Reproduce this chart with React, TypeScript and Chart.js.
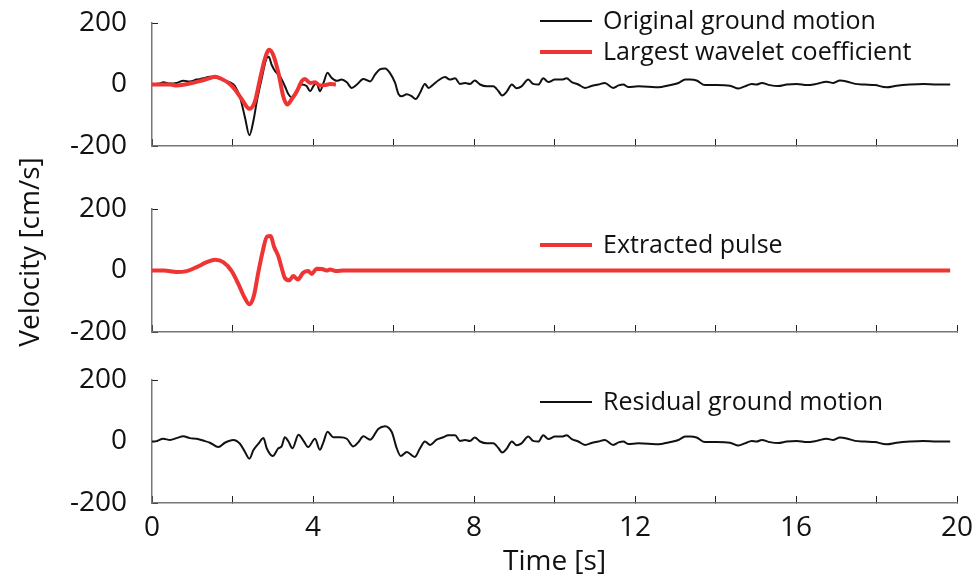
import React, { useEffect, useRef } from 'react';
import { Chart, registerables } from 'chart.js';

Chart.register(...registerables);

// ---------- data ----------
const originalT = [0, 0.1, 0.2, 0.28, 0.45, 0.61, 0.78, 0.94, 1.11, 1.27, 1.44, 1.61, 1.77, 1.94, 2.06, 2.19, 2.31, 2.42, 2.52, 2.6, 2.72, 2.85, 2.9, 2.97, 3.06, 3.18, 3.3, 3.39, 3.47, 3.6, 3.72, 3.84, 3.93, 4.01, 4.09, 4.17, 4.26, 4.36, 4.46, 4.59, 4.71, 4.84, 4.96, 5.09, 5.25, 5.42, 5.54, 5.66, 5.79, 5.91, 6.04, 6.12, 6.2, 6.33, 6.45, 6.55, 6.66, 6.78, 6.87, 6.99, 7.11, 7.28, 7.4, 7.53, 7.65, 7.78, 7.9, 8.02, 8.15, 8.32, 8.48, 8.61, 8.7, 8.81, 8.94, 9.06, 9.18, 9.35, 9.47, 9.6, 9.72, 9.85, 10.01, 10.18, 10.3, 10.43, 10.59, 10.76, 10.92, 11.09, 11.25, 11.46, 11.59, 11.71, 11.83, 12.08, 12.33, 12.58, 12.83, 13.08, 13.25, 13.37, 13.53, 13.74, 14.03, 14.36, 14.57, 14.73, 14.9, 15.02, 15.15, 15.35, 15.56, 15.77, 16.02, 16.27, 16.51, 16.76, 16.93, 17.09, 17.26, 17.47, 17.71, 17.96, 18.25, 18.5, 18.83, 19.16, 19.5, 19.83];
const originalV = [0, 2, 3, 7, 3, 5, 12, 10, 16, 20, 25, 22, 14, 7, -5, -43, -107, -165, -118, -58, 16, 86, 90, 65, 43, 27, -5, -32, -42, -22, 0, -5, -22, -5, 5, -22, 5, 38, 22, 12, 16, 7, -11, 0, 18, 10, 32, 49, 52, 38, 5, -30, -38, -32, -38, -47, -27, 2, -11, 0, 13, 24, 16, 20, 2, 5, 2, 13, 0, -6, -6, -22, -36, -24, 0, -12, -6, 16, 2, 0, 20, 8, 16, 16, 20, 8, 0, -11, -5, 0, 5, -11, -3, 0, -8, -6, -7, -9, -3, 5, 16, 16, 13, -2, -2, -4, -13, -6, 2, 0, 5, -2, -5, 0, 2, -2, 2, 9, 5, 13, 10, 2, 0, -2, -9, -4, 0, 2, 0, 0];

const waveletT = [0, 0.45, 0.61, 0.78, 0.94, 1.19, 1.4, 1.57, 1.73, 1.9, 2.06, 2.23, 2.42, 2.56, 2.68, 2.81, 2.91, 3.01, 3.14, 3.26, 3.36, 3.47, 3.6, 3.72, 3.8, 3.93, 4.05, 4.17, 4.3, 4.42, 4.57];
const waveletV = [0, 0, -3, -1, 3, 11, 19, 25, 18, 5, -16, -48, -79, -54, 16, 86, 113, 97, 38, -38, -65, -48, -22, 11, 18, 5, 7, -3, -2, 2, 0];

const pulseT = [0, 0.3, 0.61, 0.86, 1.11, 1.36, 1.57, 1.77, 1.98, 2.15, 2.3, 2.42, 2.53, 2.64, 2.75, 2.86, 2.95, 3.03, 3.14, 3.22, 3.3, 3.41, 3.51, 3.62, 3.76, 3.88, 3.97, 4.09, 4.22, 4.34, 4.42, 4.59, 4.75, 19.83];
const pulseV = [0, 0, -5, -2, 11, 27, 35, 27, -2, -45, -88, -110, -83, -7, 62, 111, 112, 78, 46, 9, -24, -32, -18, -29, -7, -2, -11, 6, 5, 0, 3, -2, 0, 0];

const residualT = [0, 0.07, 0.28, 0.45, 0.61, 0.78, 0.94, 1.11, 1.27, 1.44, 1.65, 1.81, 2.02, 2.19, 2.31, 2.42, 2.52, 2.64, 2.77, 2.85, 3.0, 3.14, 3.22, 3.3, 3.39, 3.49, 3.64, 3.76, 3.88, 4.05, 4.17, 4.26, 4.36, 4.5, 4.67, 4.84, 5.0, 5.13, 5.25, 5.42, 5.62, 5.79, 5.96, 6.08, 6.18, 6.33, 6.53, 6.66, 6.78, 6.91, 7.07, 7.24, 7.36, 7.53, 7.65, 7.78, 7.9, 8.02, 8.15, 8.32, 8.48, 8.61, 8.7, 8.81, 8.94, 9.06, 9.18, 9.35, 9.47, 9.6, 9.72, 9.85, 10.01, 10.18, 10.3, 10.43, 10.59, 10.76, 10.92, 11.09, 11.25, 11.46, 11.59, 11.71, 11.83, 12.08, 12.33, 12.58, 12.83, 13.08, 13.25, 13.37, 13.53, 13.74, 14.03, 14.36, 14.57, 14.73, 14.9, 15.02, 15.15, 15.35, 15.56, 15.77, 16.02, 16.27, 16.51, 16.76, 16.93, 17.09, 17.26, 17.47, 17.71, 17.96, 18.25, 18.5, 18.83, 19.16, 19.5, 19.83];
const residualV = [0, 0, 9, 5, 11, 17, 11, 9, 3, -4, -18, -4, 5, -8, -34, -56, -28, -8, 11, -22, -47, -22, -16, 14, 0, -22, 22, 3, -18, 9, -27, -2, 32, 14, 14, 9, -16, -2, 17, 6, 41, 50, 30, -22, -47, -34, -50, -22, 0, -11, 6, 14, 20, 20, 2, 5, 2, 13, 0, -6, -6, -22, -36, -24, 0, -12, -6, 16, 2, 0, 20, 8, 16, 16, 20, 8, 0, -11, -5, 0, 5, -11, -3, 0, -8, -6, -7, -9, -3, 5, 16, 16, 13, -2, -2, -4, -13, -6, 2, 0, 5, -2, -5, 0, 2, -2, 2, 9, 5, 13, 10, 2, 0, -2, -9, -4, 0, 2, 0, 0];

const xTickValues = [0, 2, 4, 6, 8, 10, 12, 14, 16, 18, 20];
const xLabelTicks = [0, 4, 8, 12, 16, 20];
const yTickValues = [-200, 0, 200];

const legendTop = ['Original ground motion', 'Largest wavelet coefficient'];
const legendMid = ['Extracted pulse'];
const legendBot = ['Residual ground motion'];

const BLACK = '#111111';
const RED = '#ef3434';
const FONT = "'Open Sans', 'Noto Sans', sans-serif";

const pts = (t: number[], v: number[]) => t.map((x, i) => ({ x, y: v[i] }));

const legendPlugin = {
  id: 'panelLegend',
  afterDraw(chart: any, _args: any, opts: any) {
    if (!opts || !opts.items) return;
    const ctx = chart.ctx;
    ctx.save();
    ctx.font = `${opts.fontSize}px ${FONT}`;
    ctx.textBaseline = 'middle';
    ctx.textAlign = 'left';
    opts.items.forEach((it: any, i: number) => {
      const y = opts.y + i * opts.rowGap;
      ctx.strokeStyle = it.color;
      ctx.lineWidth = it.width;
      ctx.beginPath();
      ctx.moveTo(opts.x, y);
      ctx.lineTo(opts.x + opts.lineLen, y);
      ctx.stroke();
      ctx.fillStyle = '#111';
      ctx.fillText(it.label, opts.x + opts.lineLen + opts.gap, y + 1);
    });
    ctx.restore();
  },
};

const sideLabelPlugin = {
  id: 'sideLabel',
  afterDraw(chart: any, _args: any, opts: any) {
    if (!opts || !opts.text) return;
    const ctx = chart.ctx;
    ctx.save();
    ctx.translate(opts.x, opts.y);
    ctx.rotate(-Math.PI / 2);
    ctx.font = `${opts.fontSize}px ${FONT}`;
    ctx.fillStyle = '#111';
    ctx.textAlign = 'center';
    ctx.textBaseline = 'middle';
    ctx.fillText(opts.text, 0, 0);
    ctx.restore();
  },
};

function makeConfig(p: {
  datasets: any[];
  top: number;
  bottom: number;
  xHeight: number;
  showXLabels: boolean;
  legend: any;
  side?: any;
}) {
  return {
    type: 'line',
    data: { datasets: p.datasets },
    plugins: [legendPlugin, sideLabelPlugin],
    options: {
      animation: false,
      responsive: false,
      maintainAspectRatio: false,
      events: [],
      layout: { padding: { top: p.top, left: 0, right: 19, bottom: 579 - p.bottom - p.xHeight } },
      plugins: {
        legend: { display: false },
        tooltip: { enabled: false },
        title: { display: false },
        panelLegend: p.legend,
        sideLabel: p.side || {},
      },
      elements: { point: { radius: 0 } },
      scales: {
        x: {
          type: 'linear',
          min: 0,
          max: 20,
          afterBuildTicks: (s: any) => {
            s.ticks = xTickValues.map((v) => ({ value: v }));
          },
          afterFit: (s: any) => {
            s.height = p.xHeight;
            s.paddingLeft = 0;
            s.paddingRight = 0;
          },
          ticks: {
            display: p.showXLabels,
            autoSkip: false,
            maxRotation: 0,
            padding: 15,
            color: '#111',
            font: { size: 28, family: FONT },
            callback: (v: any) => (xLabelTicks.includes(Number(v)) ? String(v) : ''),
          },
          grid: { display: true, drawOnChartArea: false, drawTicks: true, tickLength: -7, color: '#222', lineWidth: 1 },
          border: { display: true, color: '#777', width: 1.5 },
          title: {
            display: p.showXLabels,
            text: 'Time [s]',
            color: '#111',
            font: { size: 28, family: FONT },
            padding: { top: 0, bottom: 0 },
          },
        },
        y: {
          type: 'linear',
          min: -200,
          max: 200,
          afterBuildTicks: (s: any) => {
            s.ticks = yTickValues.map((v) => ({ value: v }));
          },
          afterFit: (s: any) => {
            s.width = 152;
            s.paddingTop = 0;
            s.paddingBottom = 0;
          },
          ticks: {
            padding: 31,
            color: '#111',
            font: { size: 28, family: FONT },
          },
          grid: { display: true, drawOnChartArea: false, drawTicks: true, tickLength: -6, color: '#222', lineWidth: 1 },
          border: { display: true, color: '#777', width: 1.5 },
        },
      },
    },
  };
}

const legendBase = { x: 540, lineLen: 52, gap: 11, fontSize: 25, rowGap: 31 };

export default function App() {
  const c1 = useRef<HTMLCanvasElement>(null);
  const c2 = useRef<HTMLCanvasElement>(null);
  const c3 = useRef<HTMLCanvasElement>(null);

  useEffect(() => {
    document.body.style.margin = '0';
    const line = (data: any, color: string, width: number) => ({
      data,
      borderColor: color,
      borderWidth: width,
      pointRadius: 0,
      fill: false,
      cubicInterpolationMode: 'monotone',
    });

    const charts: Chart[] = [];
    charts.push(
      new Chart(
        c1.current as HTMLCanvasElement,
        makeConfig({
          datasets: [line(pts(waveletT, waveletV), RED, 4), line(pts(originalT, originalV), BLACK, 2)],
          top: 23,
          bottom: 146,
          xHeight: 10,
          showXLabels: false,
          legend: {
            ...legendBase,
            y: 21,
            items: [
              { label: legendTop[0], color: BLACK, width: 2 },
              { label: legendTop[1], color: RED, width: 4 },
            ],
          },
        }) as any
      )
    );
    charts.push(
      new Chart(
        c2.current as HTMLCanvasElement,
        makeConfig({
          datasets: [line(pts(pulseT, pulseV), RED, 4)],
          top: 209,
          bottom: 332,
          xHeight: 10,
          showXLabels: false,
          legend: {
            ...legendBase,
            y: 245,
            items: [{ label: legendMid[0], color: RED, width: 4 }],
          },
          side: { text: 'Velocity [cm/s]', x: 31, y: 252, fontSize: 28 },
        }) as any
      )
    );
    charts.push(
      new Chart(
        c3.current as HTMLCanvasElement,
        makeConfig({
          datasets: [line(pts(residualT, residualV), BLACK, 2)],
          top: 380,
          bottom: 503,
          xHeight: 76,
          showXLabels: true,
          legend: {
            ...legendBase,
            y: 402,
            items: [{ label: legendBot[0], color: BLACK, width: 2 }],
          },
        }) as any
      )
    );
    return () => charts.forEach((c) => c.destroy());
  }, []);

  const cs: React.CSSProperties = { position: 'absolute', left: 0, top: 0, width: 976, height: 579 };
  return (
    <div style={{ position: 'fixed', left: 0, top: 0, width: 976, height: 579, background: '#fff' }}>
      <canvas ref={c1} width={976} height={579} style={cs} />
      <canvas ref={c2} width={976} height={579} style={cs} />
      <canvas ref={c3} width={976} height={579} style={cs} />
    </div>
  );
}
